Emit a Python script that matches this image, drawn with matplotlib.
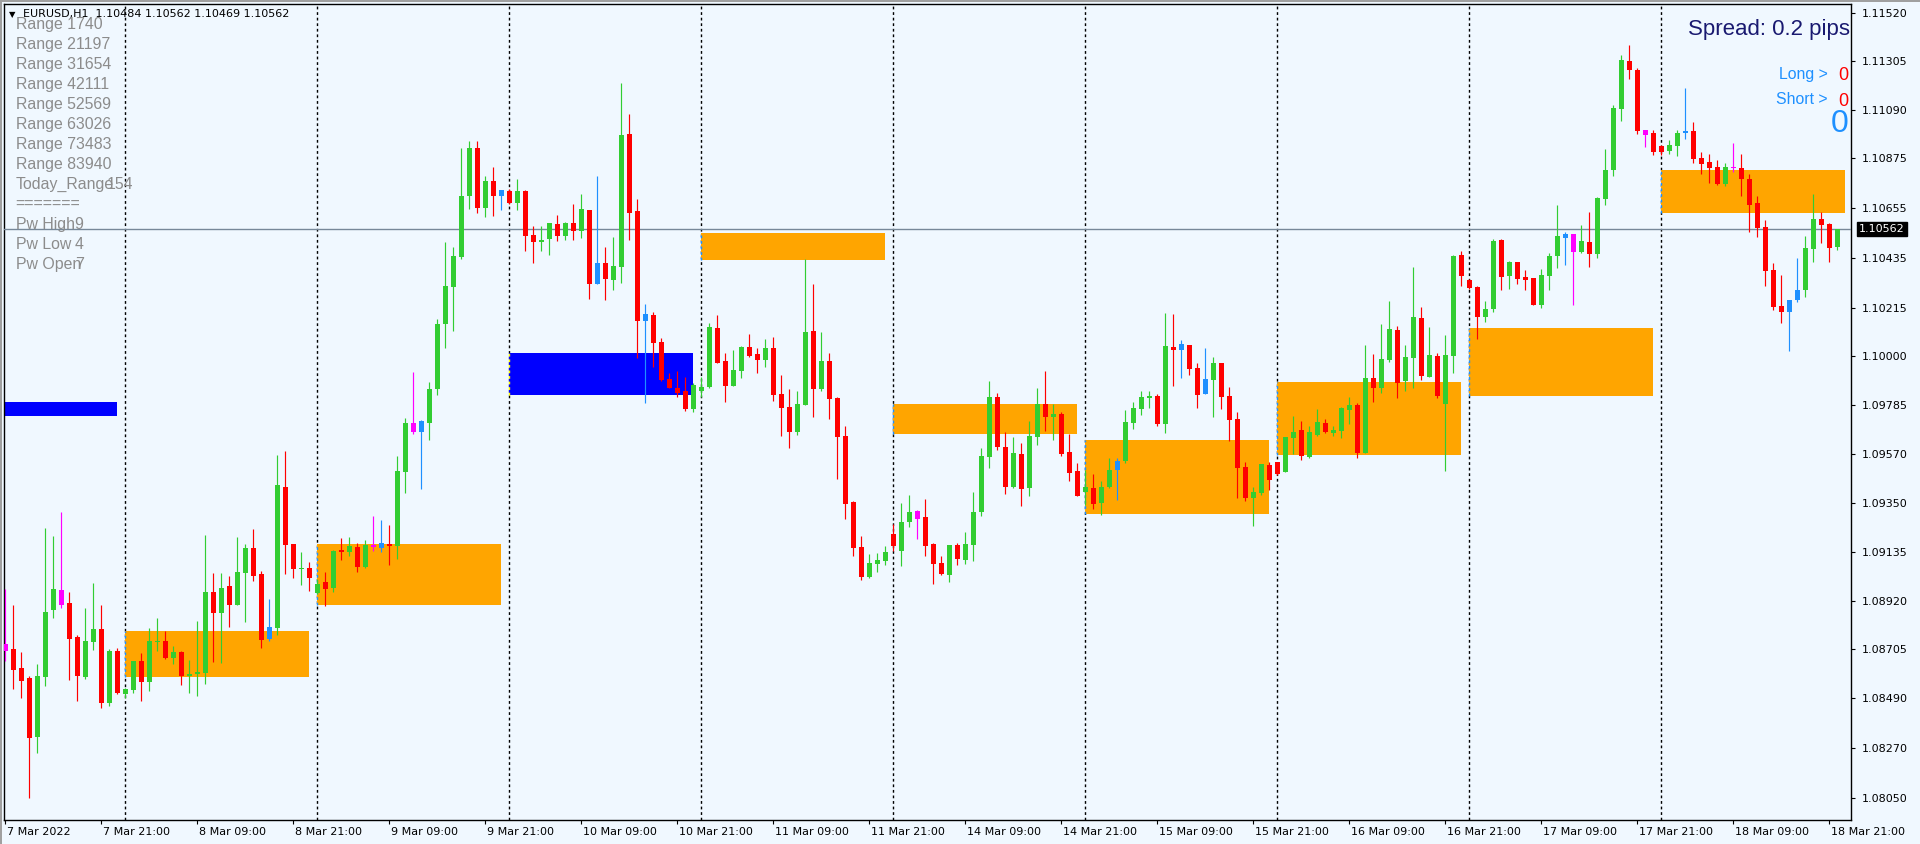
import matplotlib
matplotlib.use("Agg")
import matplotlib.pyplot as plt
import matplotlib.transforms as mtransforms
from matplotlib.patches import Rectangle

# EURUSD H1, 7 Mar 2022 09:00 .. 18 Mar 2022 22:00 (230 bars)
opens = [
    1.08728, 1.08707, 1.08623, 1.08579, 1.08319, 1.08585, 1.08880, 1.08967, 1.08909, 1.08759,
    1.08585, 1.08739, 1.08795, 1.08469, 1.08698, 1.08509, 1.08527, 1.08654, 1.08562, 1.08739,
    1.08742, 1.08668, 1.08693, 1.08588, 1.08597, 1.08602, 1.08958, 1.08867, 1.08985, 1.08902,
    1.09044, 1.09153, 1.09038, 1.08803, 1.08800, 1.09422, 1.09171, 1.09060, 1.09065, 1.08955,
    1.09003, 1.08976, 1.09144, 1.09136, 1.09159, 1.09069, 1.09166, 1.09176, 1.09171, 1.09163,
    1.09489, 1.09704, 1.09713, 1.09707, 1.09857, 1.10144, 1.10307, 1.10440, 1.10707, 1.10921,
    1.10658, 1.10777, 1.10737, 1.10732, 1.10680, 1.10731, 1.10537, 1.10507, 1.10521, 1.10585,
    1.10534, 1.10590, 1.10556, 1.10647, 1.10413, 1.10413, 1.10338, 1.10395, 1.10983, 1.10643,
    1.10188, 1.10183, 1.10063, 1.09900, 1.09861, 1.09847, 1.09768, 1.09847, 1.09865, 1.10124,
    1.09980, 1.09869, 1.09936, 1.10041, 1.10011, 1.09984, 1.10037, 1.09834, 1.09777, 1.09666,
    1.09785, 1.10112, 1.09856, 1.09979, 1.09816, 1.09648, 1.09356, 1.09157, 1.09025, 1.09082,
    1.09095, 1.09215, 1.09140, 1.09268, 1.09316, 1.09290, 1.09171, 1.09087, 1.09034, 1.09166,
    1.09100, 1.09166, 1.09312, 1.09555, 1.09820, 1.09599, 1.09422, 1.09568, 1.09418, 1.09643,
    1.09789, 1.09734, 1.09745, 1.09577, 1.09493, 1.09401, 1.09418, 1.09352, 1.09423, 1.09537,
    1.09537, 1.09705, 1.09767, 1.09816, 1.09825, 1.09701, 1.10041, 1.10055, 1.10050, 1.09949,
    1.09900, 1.09896, 1.09971, 1.09825, 1.09723, 1.09511, 1.09374, 1.09396, 1.09520, 1.09533,
    1.09489, 1.09639, 1.09675, 1.09555, 1.09652, 1.09705, 1.09661, 1.09670, 1.09763, 1.09785,
    1.09573, 1.09904, 1.09860, 1.09985, 1.10117, 1.09892, 1.09994, 1.10170, 1.09910, 1.10002,
    1.09790, 1.10002, 1.10448, 1.10338, 1.10307, 1.10175, 1.10210, 1.10515, 1.10356, 1.10418,
    1.10351, 1.10347, 1.10228, 1.10356, 1.10444, 1.10541, 1.10541, 1.10462, 1.10506, 1.10453,
    1.10696, 1.10824, 1.11094, 1.11306, 1.11266, 1.11001, 1.10988, 1.10930, 1.10908, 1.10930,
    1.10996, 1.10996, 1.10877, 1.10859, 1.10837, 1.10762, 1.10837, 1.10833, 1.10784, 1.10678,
    1.10572, 1.10382, 1.10223, 1.10249, 1.10293, 1.10293, 1.10474, 1.10607, 1.10585, 1.10484,
]
highs = [
    1.08971, 1.08901, 1.08695, 1.08588, 1.08641, 1.09241, 1.09206, 1.09312, 1.08958, 1.08768,
    1.08888, 1.08998, 1.08901, 1.08707, 1.08711, 1.08533, 1.08654, 1.08689, 1.08800, 1.08844,
    1.08786, 1.08720, 1.08698, 1.08659, 1.08830, 1.09211, 1.09043, 1.09043, 1.09030, 1.09202,
    1.09171, 1.09237, 1.09051, 1.08928, 1.09564, 1.09582, 1.09171, 1.09136, 1.09091, 1.09015,
    1.09048, 1.09144, 1.09197, 1.09202, 1.09176, 1.09189, 1.09294, 1.09277, 1.09254, 1.09560,
    1.09729, 1.09929, 1.09721, 1.09886, 1.10166, 1.10507, 1.10484, 1.10921, 1.10953, 1.10953,
    1.10798, 1.10838, 1.10737, 1.10742, 1.10785, 1.10736, 1.10577, 1.10577, 1.10591, 1.10625,
    1.10596, 1.10674, 1.10718, 1.10647, 1.10798, 1.10484, 1.10528, 1.11209, 1.11072, 1.10696,
    1.10232, 1.10197, 1.10081, 1.09927, 1.09936, 1.09909, 1.09883, 1.09909, 1.10146, 1.10182,
    1.10015, 1.10028, 1.10046, 1.10099, 1.10037, 1.10077, 1.10086, 1.09918, 1.09856, 1.09847,
    1.10429, 1.10320, 1.10108, 1.10015, 1.09820, 1.09692, 1.09361, 1.09206, 1.09126, 1.09131,
    1.09162, 1.09259, 1.09352, 1.09387, 1.09321, 1.09370, 1.09175, 1.09118, 1.09166, 1.09175,
    1.09223, 1.09400, 1.09595, 1.09891, 1.09838, 1.09666, 1.09644, 1.09617, 1.09714, 1.09860,
    1.09935, 1.09789, 1.09754, 1.09657, 1.09529, 1.09500, 1.09480, 1.09449, 1.09551, 1.09551,
    1.09763, 1.09798, 1.09847, 1.09847, 1.09833, 1.10192, 1.10187, 1.10072, 1.10050, 1.09971,
    1.10037, 1.09997, 1.09971, 1.09865, 1.09754, 1.09533, 1.09423, 1.09524, 1.09533, 1.09533,
    1.09644, 1.09736, 1.09714, 1.09692, 1.09767, 1.09723, 1.09692, 1.09776, 1.09820, 1.09794,
    1.10050, 1.10010, 1.10143, 1.10245, 1.10135, 1.10051, 1.10396, 1.10219, 1.10130, 1.10015,
    1.10095, 1.10449, 1.10466, 1.10342, 1.10312, 1.10245, 1.10519, 1.10519, 1.10422, 1.10418,
    1.10382, 1.10347, 1.10387, 1.10457, 1.10670, 1.10550, 1.10541, 1.10581, 1.10639, 1.10705,
    1.10917, 1.11112, 1.11333, 1.11377, 1.11275, 1.11001, 1.11001, 1.10935, 1.10956, 1.11001,
    1.11186, 1.11036, 1.10903, 1.10895, 1.10868, 1.10855, 1.10943, 1.10895, 1.10806, 1.10709,
    1.10603, 1.10413, 1.10360, 1.10249, 1.10435, 1.10532, 1.10718, 1.10638, 1.10590, 1.10562,
]
lows = [
    1.08655, 1.08529, 1.08491, 1.08049, 1.08248, 1.08544, 1.08843, 1.08889, 1.08571, 1.08478,
    1.08576, 1.08702, 1.08447, 1.08456, 1.08509, 1.08489, 1.08514, 1.08478, 1.08522, 1.08699,
    1.08664, 1.08642, 1.08549, 1.08514, 1.08500, 1.08553, 1.08651, 1.08646, 1.08806, 1.08902,
    1.08827, 1.09009, 1.08713, 1.08743, 1.08770, 1.09038, 1.09021, 1.08990, 1.08963, 1.08948,
    1.08898, 1.08960, 1.09100, 1.09119, 1.09048, 1.09064, 1.09139, 1.09136, 1.09078, 1.09106,
    1.09397, 1.09657, 1.09414, 1.09630, 1.09830, 1.10038, 1.10113, 1.10429, 1.10652, 1.10635,
    1.10618, 1.10622, 1.10649, 1.10675, 1.10648, 1.10467, 1.10414, 1.10467, 1.10450, 1.10512,
    1.10516, 1.10516, 1.10525, 1.10255, 1.10320, 1.10250, 1.10294, 1.10325, 1.10515, 1.09993,
    1.09794, 1.09953, 1.09891, 1.09861, 1.09821, 1.09759, 1.09754, 1.09821, 1.09861, 1.09971,
    1.09799, 1.09869, 1.09905, 1.09997, 1.09927, 1.09953, 1.09803, 1.09648, 1.09596, 1.09652,
    1.09785, 1.09732, 1.09847, 1.09723, 1.09458, 1.09281, 1.09118, 1.09011, 1.09020, 1.09047,
    1.09078, 1.09140, 1.09073, 1.09246, 1.09193, 1.09118, 1.08994, 1.09034, 1.09003, 1.09078,
    1.09082, 1.09095, 1.09294, 1.09507, 1.09586, 1.09392, 1.09418, 1.09339, 1.09383, 1.09608,
    1.09670, 1.09630, 1.09560, 1.09449, 1.09383, 1.09343, 1.09325, 1.09299, 1.09418, 1.09365,
    1.09528, 1.09679, 1.09741, 1.09772, 1.09692, 1.09661, 1.09869, 1.09904, 1.09918, 1.09772,
    1.09834, 1.09732, 1.09767, 1.09626, 1.09374, 1.09361, 1.09250, 1.09387, 1.09409, 1.09476,
    1.09489, 1.09568, 1.09542, 1.09551, 1.09648, 1.09661, 1.09648, 1.09639, 1.09701, 1.09551,
    1.09573, 1.09798, 1.09838, 1.09976, 1.09817, 1.09847, 1.09861, 1.09896, 1.09910, 1.09817,
    1.09494, 1.09927, 1.10312, 1.10300, 1.10077, 1.10153, 1.10196, 1.10294, 1.10298, 1.10320,
    1.10294, 1.10228, 1.10214, 1.10294, 1.10391, 1.10404, 1.10228, 1.10457, 1.10396, 1.10435,
    1.10670, 1.10798, 1.11041, 1.11226, 1.10983, 1.10926, 1.10891, 1.10890, 1.10895, 1.10886,
    1.10961, 1.10855, 1.10806, 1.10766, 1.10757, 1.10753, 1.10815, 1.10709, 1.10550, 1.10528,
    1.10311, 1.10205, 1.10148, 1.10024, 1.10240, 1.10262, 1.10417, 1.10502, 1.10417, 1.10469,
]
closes = [
    1.08699, 1.08614, 1.08567, 1.08315, 1.08588, 1.08870, 1.08971, 1.08901, 1.08752, 1.08588,
    1.08742, 1.08795, 1.08469, 1.08698, 1.08514, 1.08530, 1.08654, 1.08562, 1.08742, 1.08744,
    1.08668, 1.08693, 1.08588, 1.08596, 1.08605, 1.08958, 1.08867, 1.08976, 1.08902, 1.09047,
    1.09153, 1.09031, 1.08748, 1.08752, 1.09432, 1.09166, 1.09061, 1.09065, 1.09021, 1.08995,
    1.08971, 1.09139, 1.09137, 1.09163, 1.09069, 1.09166, 1.09159, 1.09153, 1.09163, 1.09494,
    1.09704, 1.09665, 1.09665, 1.09857, 1.10144, 1.10312, 1.10444, 1.10710, 1.10921, 1.10658,
    1.10777, 1.10707, 1.10707, 1.10680, 1.10731, 1.10534, 1.10507, 1.10515, 1.10590, 1.10534,
    1.10590, 1.10556, 1.10652, 1.10320, 1.10320, 1.10342, 1.10400, 1.10979, 1.10636, 1.10157,
    1.10157, 1.10059, 1.09896, 1.09861, 1.09838, 1.09768, 1.09874, 1.09865, 1.10128, 1.09971,
    1.09869, 1.09940, 1.10041, 1.10002, 1.09984, 1.10037, 1.09830, 1.09772, 1.09667, 1.09789,
    1.10108, 1.09856, 1.09979, 1.09811, 1.09643, 1.09347, 1.09153, 1.09025, 1.09087, 1.09100,
    1.09135, 1.09162, 1.09268, 1.09312, 1.09281, 1.09162, 1.09082, 1.09038, 1.09166, 1.09104,
    1.09171, 1.09312, 1.09560, 1.09820, 1.09599, 1.09422, 1.09573, 1.09414, 1.09648, 1.09789,
    1.09732, 1.09745, 1.09568, 1.09484, 1.09383, 1.09423, 1.09347, 1.09423, 1.09498, 1.09498,
    1.09710, 1.09772, 1.09820, 1.09825, 1.09701, 1.10046, 1.10028, 1.10028, 1.09944, 1.09829,
    1.09834, 1.09971, 1.09820, 1.09719, 1.09507, 1.09374, 1.09401, 1.09524, 1.09454, 1.09480,
    1.09644, 1.09666, 1.09560, 1.09666, 1.09710, 1.09666, 1.09675, 1.09772, 1.09785, 1.09573,
    1.09904, 1.09860, 1.09988, 1.10122, 1.09883, 1.09998, 1.10175, 1.09914, 1.10007, 1.09826,
    1.10007, 1.10444, 1.10356, 1.10303, 1.10175, 1.10210, 1.10510, 1.10351, 1.10418, 1.10342,
    1.10338, 1.10228, 1.10360, 1.10444, 1.10532, 1.10524, 1.10462, 1.10510, 1.10453, 1.10700,
    1.10824, 1.11098, 1.11310, 1.11266, 1.10997, 1.10979, 1.10904, 1.10904, 1.10934, 1.10987,
    1.10987, 1.10872, 1.10850, 1.10833, 1.10762, 1.10837, 1.10833, 1.10784, 1.10669, 1.10567,
    1.10377, 1.10218, 1.10196, 1.10196, 1.10249, 1.10479, 1.10607, 1.10581, 1.10479, 1.10562,
]

# candles painted in a signal colour instead of bull/bear
special_bars = {0: "m", 7: "m", 33: "b", 46: "m", 47: "b", 51: "m", 52: "b", 62: "b",
                74: "b", 80: "b", 114: "m", 139: "b", 147: "b", 150: "b", 195: "b",
                196: "m", 205: "m", 210: "b", 216: "m", 223: "b", 224: "b"}

# daily zones (bar index from / to, price top / bottom)
box_start = [-1, 15, 39, 63, 87, 111, 135, 159, 183, 207]
box_end = [14, 38, 62, 86, 110, 134, 158, 182, 206, 230]
box_top = [1.09798, 1.08786, 1.09171, 1.10015, 1.10546, 1.09790, 1.09630, 1.09887, 1.10126, 1.10824]
box_bottom = [1.09738, 1.08584, 1.08901, 1.09829, 1.10428, 1.09658, 1.09305, 1.09565, 1.09823, 1.10634]
box_kind = ["blue", "orange", "orange", "blue", "orange", "orange", "orange", "orange", "orange", "orange"]

day_separators = [15, 39, 63, 87, 111, 135, 159, 183, 207]

time_ticks = list(range(0, 229, 12))
time_labels = ["7 Mar 2022", "7 Mar 21:00", "8 Mar 09:00", "8 Mar 21:00", "9 Mar 09:00",
               "9 Mar 21:00", "10 Mar 09:00", "10 Mar 21:00", "11 Mar 09:00", "11 Mar 21:00",
               "14 Mar 09:00", "14 Mar 21:00", "15 Mar 09:00", "15 Mar 21:00", "16 Mar 09:00",
               "16 Mar 21:00", "17 Mar 09:00", "17 Mar 21:00", "18 Mar 09:00", "18 Mar 21:00"]
price_ticks = [1.11520, 1.11305, 1.11090, 1.10875, 1.10655, 1.10435, 1.10215, 1.10000,
               1.09785, 1.09570, 1.09350, 1.09135, 1.08920, 1.08705, 1.08490, 1.08270, 1.08050]
last_price = 1.10562

info_rows = ["Range 1740", "Range 21197", "Range 31654", "Range 42111", "Range 52569",
             "Range 63026", "Range 73483", "Range 83940", "Today_Range", "=======",
             "Pw High", "Pw Low", "Pw Open"]
info_values = ["", "", "", "", "", "", "", "", "154", "", "9", "4", "7"]
info_value_x = [0, 0, 0, 0, 0, 0, 0, 0, 107, 0, 74, 75, 75]

BG = "#F0F8FF"
COLORS = {"g": "#32CD32", "r": "#FF0000", "b": "#1E90FF", "m": "#FF00FF",
          "orange": "#FFA500", "blue": "#0000FF"}

W, H = 1920, 844
fig = plt.figure(figsize=(W / 100, H / 100), dpi=100, facecolor=BG)
ax = fig.add_axes([4 / W, 24 / H, 1847 / W, 816 / H])
ax.set_facecolor(BG)
ax.set_xlim(-0.16, 230.7)
ax.set_ylim(1.079509, 1.115577)

# window frame on the left / top
fig.add_artist(Rectangle((0, 0), 2 / W, 1, transform=fig.transFigure, color="#A0A0A0", lw=0))
fig.add_artist(Rectangle((0, 1 - 1.5 / H), 1, 1.5 / H, transform=fig.transFigure, color="#A0A0A0", lw=0))

# separators
for b in day_separators:
    ax.axvline(b, color="black", lw=1.0, ls=(0, (2, 2)), zorder=1)

# zones
for a, b, t, lo, k in zip(box_start, box_end, box_top, box_bottom, box_kind):
    ax.add_patch(Rectangle((a, lo), b - a, t - lo, facecolor=COLORS[k], edgecolor="none", zorder=2))
    edge = "#FFFF00" if k == "blue" else "#1E90FF"
    ax.vlines(a, lo, t, color=edge, lw=1.0, ls=(0, (2, 2)), zorder=2.5)

ax.axhline(last_price, color="#778899", lw=1.0, zorder=2.6)

# candles
n = len(opens)
xs = list(range(n))
cols = []
for i in xs:
    if i in special_bars:
        cols.append(COLORS[special_bars[i]])
    else:
        cols.append(COLORS["g"] if closes[i] >= opens[i] else COLORS["r"])
bottoms = [min(o, c) for o, c in zip(opens, closes)]
heights = [max(abs(c - o), 0.00004) for o, c in zip(opens, closes)]
ax.vlines(xs, lows, highs, colors=cols, lw=0.85, zorder=4)
ax.bar(xs, heights, bottom=bottoms, width=0.62, color=cols, linewidth=0, zorder=5)

# axes styling
for s in ax.spines.values():
    s.set_color("black")
    s.set_linewidth(1.0)
ax.yaxis.tick_right()
ax.set_yticks(price_ticks)
ax.set_yticklabels([f"{p:.5f}" for p in price_ticks])
ax.tick_params(axis="y", direction="out", length=3, width=0.8, pad=5, labelsize=8, colors="black")
ax.set_xticks(time_ticks)
ax.set_xticklabels(time_labels)
ax.tick_params(axis="x", direction="out", length=3, width=0.8, pad=2, labelsize=8, colors="black")
shift = mtransforms.ScaledTranslation(2 / 100, 0, fig.dpi_scale_trans)
for lbl in ax.get_xticklabels():
    lbl.set_horizontalalignment("left")
    lbl.set_transform(lbl.get_transform() + shift)

# current price tag
ax.text(1.0045, last_price, f"{last_price:.5f}", transform=ax.get_yaxis_transform(),
        ha="left", va="center", fontsize=8, color="white", zorder=10, clip_on=False,
        bbox=dict(boxstyle="square,pad=0.2", fc="black", ec="black"))


def fx(x, y):
    return x / W, 1 - y / H


# header
fig.text(*fx(9, 14.5), "\u25BC", fontsize=6, ha="left", va="center", color="black")
fig.text(*fx(23, 14.5), "EURUSD,H1  1.10484 1.10562 1.10469 1.10562",
         fontsize=8, ha="left", va="center", color="black")

# info panel (values overlap their labels, as on the terminal)
for k, (row, val, vx) in enumerate(zip(info_rows, info_values, info_value_x)):
    y = 24.5 + 20 * k
    fig.text(*fx(15.7, y), row, fontsize=11.4, family="Liberation Sans",
             color="#8C8C8C", ha="left", va="center")
    if val:
        fig.text(*fx(vx, y), val, fontsize=11.4, family="Liberation Sans",
                 color="#8C8C8C", ha="left", va="center")

# top right
fig.text(*fx(1850, 30), "Spread: 0.2 pips", fontsize=16, family="Liberation Sans",
         color="#191970", ha="right", va="center")
fig.text(*fx(1828, 74), "Long >", fontsize=11.4, family="Liberation Sans",
         color="#1E90FF", ha="right", va="center")
fig.text(*fx(1828, 99), "Short >", fontsize=11.4, family="Liberation Sans",
         color="#1E90FF", ha="right", va="center")
fig.text(*fx(1838, 76), "0", fontsize=13, family="Liberation Sans",
         color="#FF0000", ha="left", va="center")
fig.text(*fx(1838, 101.5), "0", fontsize=13, family="Liberation Sans",
         color="#FF0000", ha="left", va="center")
fig.text(*fx(1849, 124), "0", fontsize=23, family="Liberation Sans",
         color="#1E90FF", ha="right", va="center")

fig.savefig("out.png", dpi=100, facecolor=BG)
